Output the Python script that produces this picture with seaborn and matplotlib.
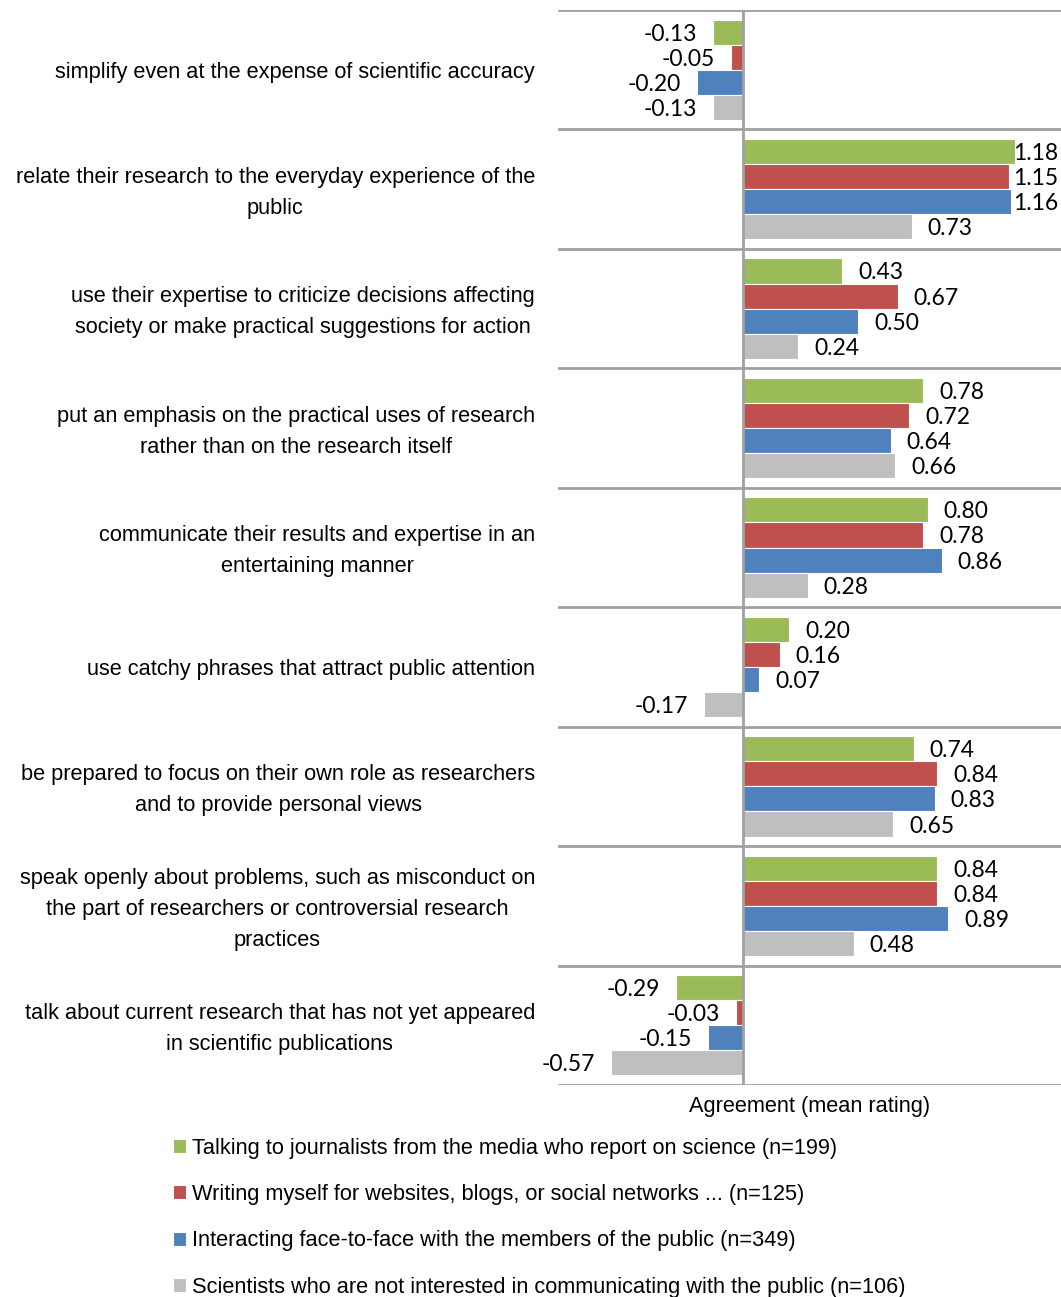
import matplotlib
matplotlib.use("Agg")
import matplotlib.pyplot as plt
import matplotlib.transforms as mtransforms
import seaborn as sns
import pandas as pd

categories = [
    "simplify even at the expense of scientific accuracy",
    "relate their research to the everyday experience of the\npublic",
    "use their expertise to criticize decisions affecting\nsociety or make practical suggestions for action",
    "put an emphasis on the practical uses of research\nrather than on the research itself",
    "communicate their results and expertise in an\nentertaining manner",
    "use catchy phrases that attract public attention",
    "be prepared to focus on their own role as researchers\nand to provide personal views",
    "speak openly about problems, such as misconduct on\nthe part of researchers or controversial research\npractices",
    "talk about current research that has not yet appeared\nin scientific publications",
]

series = [
    "Talking to journalists from the media who report on science (n=199)",
    "Writing myself for websites, blogs, or social networks ... (n=125)",
    "Interacting face-to-face with the members of the public (n=349)",
    "Scientists who are not interested in communicating with the public (n=106)",
]

journalists = [-0.13, 1.18, 0.43, 0.78, 0.80, 0.20, 0.74, 0.84, -0.29]
writing = [-0.05, 1.15, 0.67, 0.72, 0.78, 0.16, 0.84, 0.84, -0.03]
face_to_face = [-0.20, 1.16, 0.50, 0.64, 0.86, 0.07, 0.83, 0.89, -0.15]
not_interested = [-0.13, 0.73, 0.24, 0.66, 0.28, -0.17, 0.65, 0.48, -0.57]

colors = ["#9BBB59", "#C0504D", "#4F81BD", "#BFBFBF"]

rows = []
for name, vals in zip(series, [journalists, writing, face_to_face, not_interested]):
    for cat, v in zip(categories, vals):
        rows.append({"item": cat, "group": name, "value": v})
df = pd.DataFrame(rows)

sns.set_theme(style="white")
plt.rcParams["font.family"] = ["Liberation Sans", "DejaVu Sans"]
plt.rcParams["text.color"] = "black"
plt.rcParams["axes.labelcolor"] = "black"

LABEL_SIZE = 15.7
VALUE_SIZE = 16.5

fig = plt.figure(figsize=(10.61, 12.97), dpi=100)
ax = fig.add_axes([558 / 1061, 1 - 1085 / 1297, (1061 - 558) / 1061, (1085 - 10) / 1297])

sns.barplot(data=df, y="item", x="value", hue="group", order=categories,
            hue_order=series, palette=colors, saturation=1, orient="h", width=0.84,
            edgecolor="white", linewidth=0.8, ax=ax, errorbar=None, legend=True)

ax.set_xlim(-0.80, 1.377)
ax.set_ylim(len(categories) - 0.5, -0.5)

for s in ax.spines.values():
    s.set_visible(False)
ax.set_xticks([])
ax.set_yticks(range(len(categories)))
ax.set_yticklabels(categories, fontsize=LABEL_SIZE, color="black")
ax.tick_params(axis="y", length=0, pad=16.5)
nudge = mtransforms.ScaledTranslation(0, -3.5 / 100, fig.dpi_scale_trans)
for t in ax.get_yticklabels():
    t.set_multialignment("center")
    t.set_linespacing(1.62)
    if "\n" in t.get_text():
        t.set_verticalalignment("center")
        t.set_transform(t.get_transform() + nudge)
ax.set_ylabel("")

for b in [i - 0.5 for i in range(len(categories) + 1)]:
    ax.axhline(b, color="#A0A0A0", lw=2, zorder=0)
ax.axvline(0, color="#A0A0A0", lw=2, zorder=3)

# value labels next to each bar
for container in ax.containers:
    for bar in container:
        v = bar.get_width()
        yc = bar.get_y() + bar.get_height() / 2
        txt = f"{v:.2f}"
        if v >= 0:
            if v > 1.1:
                ax.annotate(txt, xy=(1.0, yc), xycoords=("axes fraction", "data"),
                            xytext=(-3, -2), textcoords="offset pixels",
                            ha="right", va="center", fontsize=VALUE_SIZE, family="Lato")
            else:
                ax.annotate(txt, xy=(v, yc), xytext=(16, -2), textcoords="offset pixels",
                            ha="left", va="center", fontsize=VALUE_SIZE, family="Lato")
        else:
            ax.annotate(txt, xy=(v, yc), xytext=(-16, -2), textcoords="offset pixels",
                        ha="right", va="center", fontsize=VALUE_SIZE, family="Lato")

ax.set_xlabel("Agreement (mean rating)", fontsize=LABEL_SIZE, labelpad=8, color="black")

handles, labels = ax.get_legend_handles_labels()
ax.get_legend().remove()
fig.legend(handles, labels, loc="upper left", bbox_to_anchor=(164 / 1061, 1 - 1129 / 1297),
           frameon=False, fontsize=LABEL_SIZE, handlelength=0.6, handleheight=0.6,
           handletextpad=0.3, labelspacing=1.16, borderaxespad=0, labelcolor="black")

fig.savefig("out.png", dpi=100)
